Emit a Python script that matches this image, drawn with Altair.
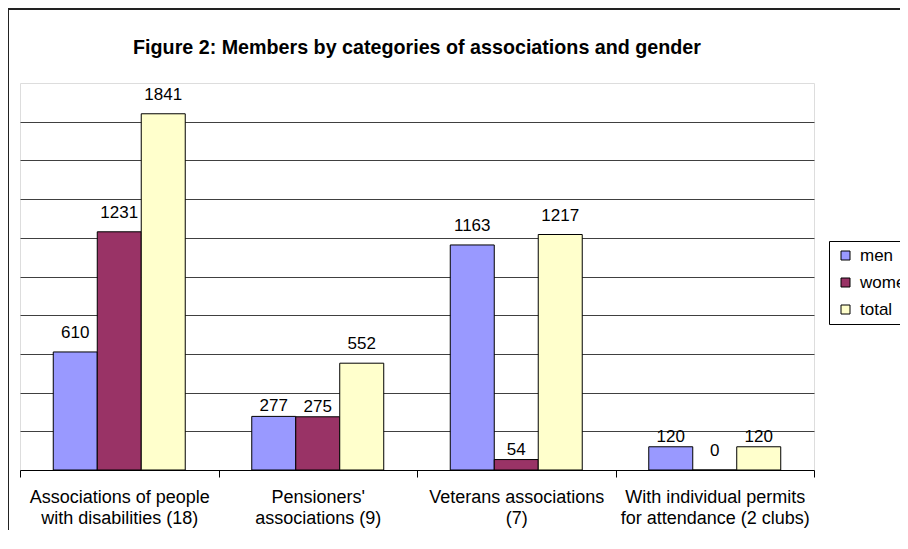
import altair as alt
import pandas as pd

categories = [
    "Associations of people\nwith disabilities (18)",
    "Pensioners'\nassociations (9)",
    "Veterans associations\n(7)",
    "With individual permits\nfor attendance (2 clubs)",
]
series = ["men", "women", "total"]
men = [610, 277, 1163, 120]
women = [1231, 275, 54, 0]
total = [1841, 552, 1217, 120]
colors = ["#9999FF", "#993366", "#FFFFCC"]
grid_values = [200, 400, 600, 800, 1000, 1200, 1400, 1600, 1800]
title_text = "Figure 2: Members by categories of associations and gender"

rows = []
for i, c in enumerate(categories):
    for s, vals in zip(series, [men, women, total]):
        rows.append({"category": c, "series": s, "value": vals[i]})
df = pd.DataFrame(rows)

FONT = "Liberation Sans"
W, H = 794, 387

x_enc = alt.X(
    "category:N",
    sort=categories,
    scale=alt.Scale(paddingInner=0, paddingOuter=0),
    axis=alt.Axis(
        title=None,
        labelAngle=0,
        labelExpr="split(datum.label, '\\n')",
        labelLimit=0,
        tickBand="extent",
        grid=False,
        domainColor="black",
        domainWidth=1,
        tickColor="black",
        tickSize=7,
        labelFont=FONT,
        labelFontSize=18,
        labelColor="black",
        labelPadding=11,
        labelLineHeight=21,
    ),
)
xo_enc = alt.XOffset(
    "series:N", sort=series, scale=alt.Scale(paddingInner=0, paddingOuter=0.756)
)
y_enc = alt.Y(
    "value:Q",
    scale=alt.Scale(domain=[0, 2000], nice=False),
    axis=alt.Axis(
        title=None,
        labels=False,
        ticks=False,
        domain=False,
        values=grid_values,
        grid=True,
        gridColor="#404040",
        gridWidth=1,
        gridOpacity=1,
    ),
)

base = alt.Chart(df)

bars = base.mark_bar(stroke="black", strokeWidth=1).encode(
    x=x_enc,
    xOffset=xo_enc,
    y=y_enc,
    color=alt.Color(
        "series:N",
        sort=series,
        scale=alt.Scale(domain=series, range=colors),
        legend=alt.Legend(
            title=None,
            orient="none",
            legendX=809,
            legendY=158,
            symbolType="square",
            symbolSize=81,
            symbolStrokeColor="black",
            symbolStrokeWidth=1,
            labelFont=FONT,
            labelFontSize=17,
            labelColor="black",
            labelLimit=0,
            fillColor="white",
            strokeColor="black",
            padding=6,
            rowPadding=9,
            labelOffset=6,
            symbolOffset=2,
        ),
    ),
)

text_hi = (
    base.transform_filter("datum.value >= 300 || datum.value == 0")
    .mark_text(baseline="bottom", dy=-10, font=FONT, fontSize=17, color="black")
    .encode(x=x_enc, xOffset=xo_enc, y=y_enc, text="value:Q")
)
text_lo = (
    base.transform_filter("datum.value < 300 && datum.value > 0")
    .mark_text(baseline="bottom", dy=-1, font=FONT, fontSize=17, color="black")
    .encode(x=x_enc, xOffset=xo_enc, y=y_enc, text="value:Q")
)

one = pd.DataFrame({"k": [0]})
title_mark = alt.Chart(one).mark_text(
    font=FONT, fontSize=19.7, fontWeight="bold", color="black",
    align="center", baseline="alphabetic",
).encode(x=alt.value(W / 2), y=alt.value(-29), text=alt.value(title_text))

frame_left = alt.Chart(one).mark_rule(color="#222222", strokeWidth=2).encode(
    x=alt.value(-12), y=alt.value(-75), y2=alt.value(470)
)
frame_top = alt.Chart(one).mark_rule(color="#222222", strokeWidth=2).encode(
    x=alt.value(-12), x2=alt.value(900), y=alt.value(-74)
)

chart = (
    alt.layer(bars, text_hi, text_lo, title_mark, frame_left, frame_top)
    .properties(
        width=W,
        height=H,
        autosize=alt.AutoSizeParams(type="none"),
        padding={"left": 12, "top": 75, "right": 86, "bottom": 60},
    )
    .configure_view(fill="#C0C0C0", stroke="#808080", strokeWidth=2)
    .configure(background="white")
)

chart.save("out.html", embed_options={"renderer": "svg", "actions": False})
